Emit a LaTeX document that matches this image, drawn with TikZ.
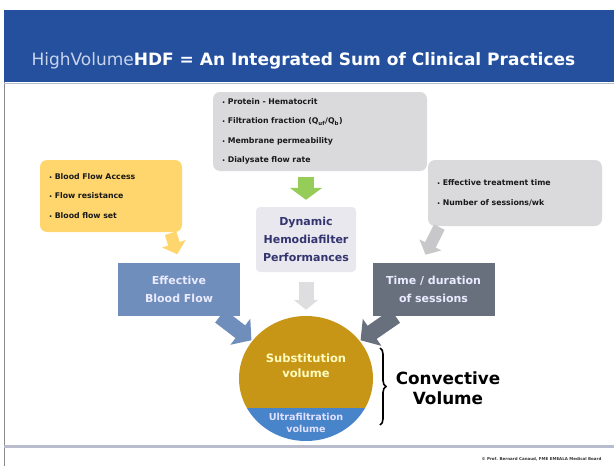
\documentclass[tikz,border=0pt]{standalone}
\usepackage{fontspec}
\setmainfont{DejaVu Sans}
\usetikzlibrary{arrows.meta,positioning,shapes.geometric,decorations.pathreplacing}

\definecolor{bandblue}{RGB}{36,80,158}
\definecolor{hvlight}{RGB}{200,212,236}
\definecolor{qualgray}{RGB}{218,218,220}
\definecolor{accessyel}{RGB}{255,214,110}
\definecolor{dyngray}{RGB}{232,232,238}
\definecolor{dyntext}{RGB}{52,52,112}
\definecolor{flowblue}{RGB}{112,142,188}
\definecolor{durgray}{RGB}{104,112,126}
\definecolor{arrowgreen}{RGB}{150,204,88}
\definecolor{lightarrow}{RGB}{222,222,224}
\definecolor{sustgold}{RGB}{200,150,22}
\definecolor{ufblue}{RGB}{72,132,202}
\definecolor{footline}{RGB}{184,188,204}

\newcommand{\itm}[1]{{\fontsize{5}{5}\selectfont\textbullet}~#1}

\tikzset{
  infobox/.style={rounded corners=7pt, inner sep=0pt, inner xsep=9pt, align=left,
    font=\bfseries\fontsize{7.8}{19.5}\selectfont, text=black!90},
  keybox/.style={inner sep=0pt, align=center, text=white!92!blue,
    font=\bfseries\fontsize{11}{18}\selectfont,
    minimum width=122pt, minimum height=53pt},
  blockarrow/.style={line width=#1, line cap=butt}
}

\begin{document}
\begin{tikzpicture}[x=1pt,y=-1pt]
\useasboundingbox (0,0) rectangle (614,466);

% frame and title band
\draw[black!45, line width=0.8pt] (4,466) -- (4,10) -- (614,10);
\fill[bandblue] (4.4,10.4) rectangle (614,82);
\draw[footline, line width=1pt] (4.4,83) -- (614,83);
\draw[footline, line width=3pt] (4.4,446) -- (614,446);
\node[anchor=west, text=white, font=\bfseries\fontsize{17}{18}\selectfont] (title) at (28,61)
  {{\color{hvlight}\mdseries HighVolume}HDF = An Integrated Sum of Clinical Practices};

% information boxes
\node[infobox, fill=qualgray, text width=196pt, minimum height=79pt] (protbox) at (320,131.5)
  {\itm{Protein - Hematocrit}\\
   \itm{Filtration fraction (Q\textsubscript{uf}/Q\textsubscript{b})}\\
   \itm{Membrane permeability}\\
   \itm{Dialysate flow rate}};
\node[infobox, fill=accessyel, text width=124pt, minimum height=72pt] (accessbox) at (111,196)
  {\itm{Blood Flow Access}\\
   \itm{Flow resistance}\\
   \itm{Blood flow set}};
\node[infobox, fill=qualgray, text width=156pt, minimum height=66pt] (sessbox) at (515,193)
  {\itm{Effective treatment time}\\
   \itm{Number of sessions/wk}};

% central column
\node[rounded corners=4pt, fill=dyngray, text=dyntext, align=center, inner sep=0pt,
  minimum width=100pt, minimum height=65pt,
  font=\bfseries\fontsize{11}{18}\selectfont] (dynbox) at (306,239.5)
  {Dynamic\\Hemodiafilter\\Performances};
\node[keybox, fill=flowblue] (flowbox) at (179,289.5) {Effective\\Blood Flow};
\node[keybox, fill=durgray] (durbox) at (433.5,289.5) {Time / duration\\of sessions};

% convective volume
\node[ellipse, minimum width=134pt, minimum height=125pt, inner sep=0pt] (convol) at (306,378.5) {};
\begin{scope}
  \clip (306,378.5) ellipse [x radius=67, y radius=62.5];
  \fill[sustgold] (230,310) rectangle (380,408);
  \fill[ufblue] (230,408) rectangle (380,450);
\end{scope}
\node[text=yellow!25!white, align=center, font=\bfseries\fontsize{11.5}{15}\selectfont] (subst) at (306,366)
  {Substitution\\volume};
\node[text=white!88!blue, align=center, font=\bfseries\fontsize{9.6}{11.5}\selectfont] (ultra) at (306,423)
  {Ultrafiltration\\volume};

\coordinate (bracetop) at (380,348);
\coordinate (bracebot) at (380,425);
\draw[decorate, decoration={brace, amplitude=6pt}, line width=1.6pt] (bracetop) -- (bracebot);
\node[align=center, font=\bfseries\fontsize{16.8}{20}\selectfont] (convlabel) at (448,388)
  {Convective\\Volume};

% arrows
\draw[blockarrow=16pt, arrowgreen, -{Triangle[width=32pt,length=12pt]}, shorten <=6pt, shorten >=7pt]
  (dynbox.north |- protbox.south) -- (dynbox.north);
\draw[blockarrow=15pt, lightarrow, -{Triangle[width=24pt,length=10pt]}, shorten <=10pt, shorten >=6pt]
  (dynbox.south) -- (convol.north);
\draw[blockarrow=12pt, accessyel, -{Triangle[width=24pt,length=11pt]}, shorten <=1pt, shorten >=9pt]
  ([xshift=-12pt]accessbox.south east) -- ([xshift=1pt]flowbox.north);
\draw[blockarrow=12pt, lightarrow!90!black, -{Triangle[width=24pt,length=11pt]}, shorten <=1pt, shorten >=9pt]
  ([xshift=12pt]sessbox.south west) -- ([xshift=-12pt]durbox.north);
\draw[blockarrow=16pt, flowblue, -{Triangle[width=32pt,length=14pt]}, shorten >=1pt]
  ([xshift=41pt]flowbox.south) -- (convol.145);
\draw[blockarrow=16pt, durgray, -{Triangle[width=32pt,length=14pt]}, shorten >=1pt]
  ([xshift=-38pt]durbox.south) -- (convol.35);

\node[anchor=east, text=black!80, font=\bfseries\fontsize{4}{5}\selectfont] (credit) at (605,459)
  {© Prof. Bernard Canaud, FME EMEALA Medical Board};
\end{tikzpicture}
\end{document}
